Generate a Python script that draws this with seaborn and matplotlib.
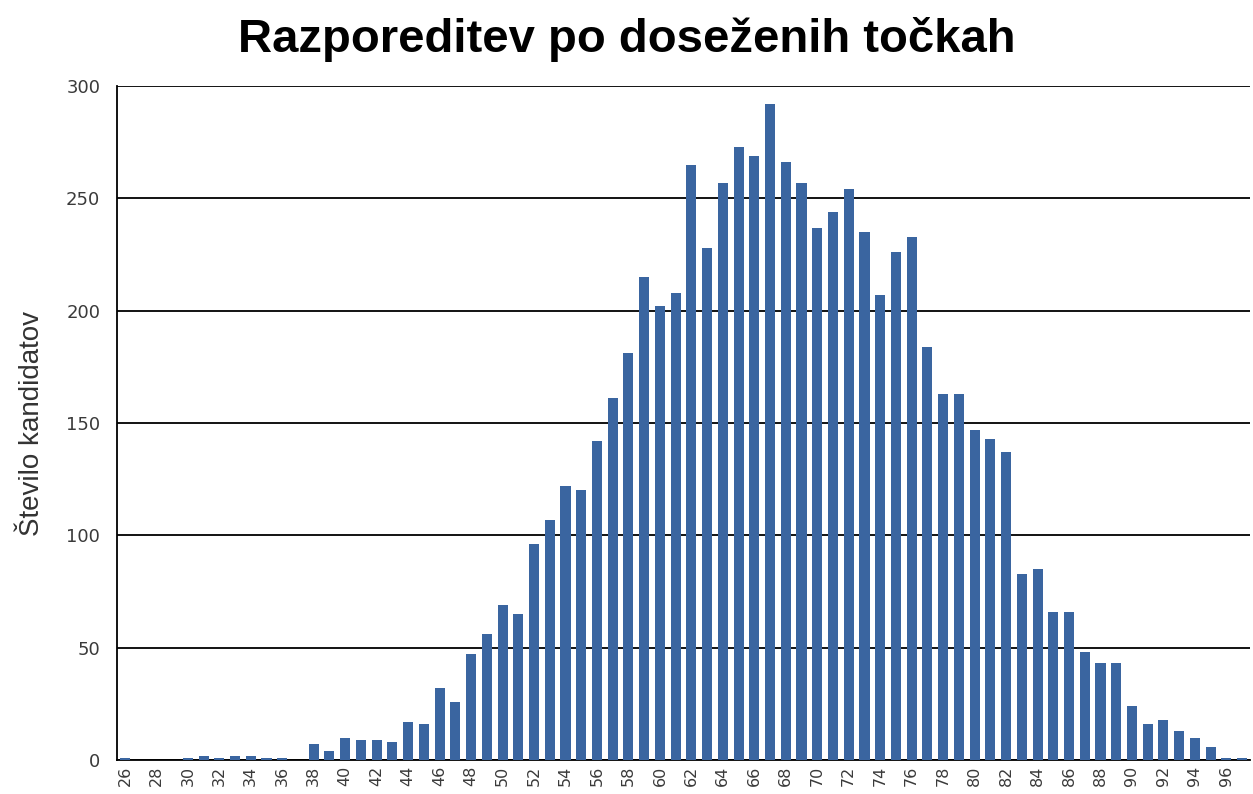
import matplotlib
matplotlib.use("Agg")
import matplotlib.pyplot as plt
import seaborn as sns
import pandas as pd

# points reached (26..97) and number of candidates per score
points = list(range(26, 98))
counts = [1, 0, 0, 0, 1, 2, 1, 2, 2, 1, 1, 0,
          7, 4, 10, 9, 9, 8, 17, 16, 32, 26, 47, 56,
          69, 65, 96, 107, 122, 120, 142, 161, 181, 215, 202, 208,
          265, 228, 257, 273, 269, 292, 266, 257, 237, 244, 254, 235,
          207, 226, 233, 184, 163, 163, 147, 143, 137, 83, 85, 66,
          66, 48, 43, 43, 24, 16, 18, 13, 10, 6, 1, 1]
yticks = [0, 50, 100, 150, 200, 250, 300]

df = pd.DataFrame({"tocke": [str(p) for p in points], "kandidati": counts})

sns.set_style("white")
fig = plt.figure(figsize=(12.53, 7.94), dpi=100)
ax = fig.add_axes([0.0934, 0.0428, 0.9042, 0.8489])

sns.barplot(data=df, x="tocke", y="kandidati", order=df["tocke"],
            color="#3A65A0", saturation=1, width=0.64, linewidth=0,
            ax=ax, zorder=3)

ax.set_ylim(0, 300)
ax.set_xlim(-0.5, len(points) - 0.5)
ax.set_yticks(yticks)
ax.set_yticklabels([str(t) for t in yticks], fontsize=13,
                   color="#3a3a3a", family="DejaVu Sans")
pos = list(range(0, len(points) - 1, 2))
ax.set_xticks(pos)
ax.set_xticklabels([str(points[i]) for i in pos], rotation=90,
                   fontsize=11.5, color="#3a3a3a", family="DejaVu Sans")
ax.tick_params(axis="y", length=0, pad=12)
ax.tick_params(axis="x", length=0, pad=4)

ax.yaxis.grid(True, color="black", linewidth=1.3, zorder=1)
ax.set_axisbelow(True)
for s in ["top", "right"]:
    ax.spines[s].set_visible(False)
for s in ["left", "bottom"]:
    ax.spines[s].set_color("black")
    ax.spines[s].set_linewidth(1.3)

ax.set_xlabel("")
ax.set_ylabel("Število kandidatov", fontsize=20, family="Liberation Sans",
              color="#333333", labelpad=15)
fig.suptitle("Razporeditev po doseženih točkah", fontsize=34,
             fontweight="bold", family="Liberation Sans", color="black",
             y=0.978)

fig.savefig("out.png", dpi=100)
